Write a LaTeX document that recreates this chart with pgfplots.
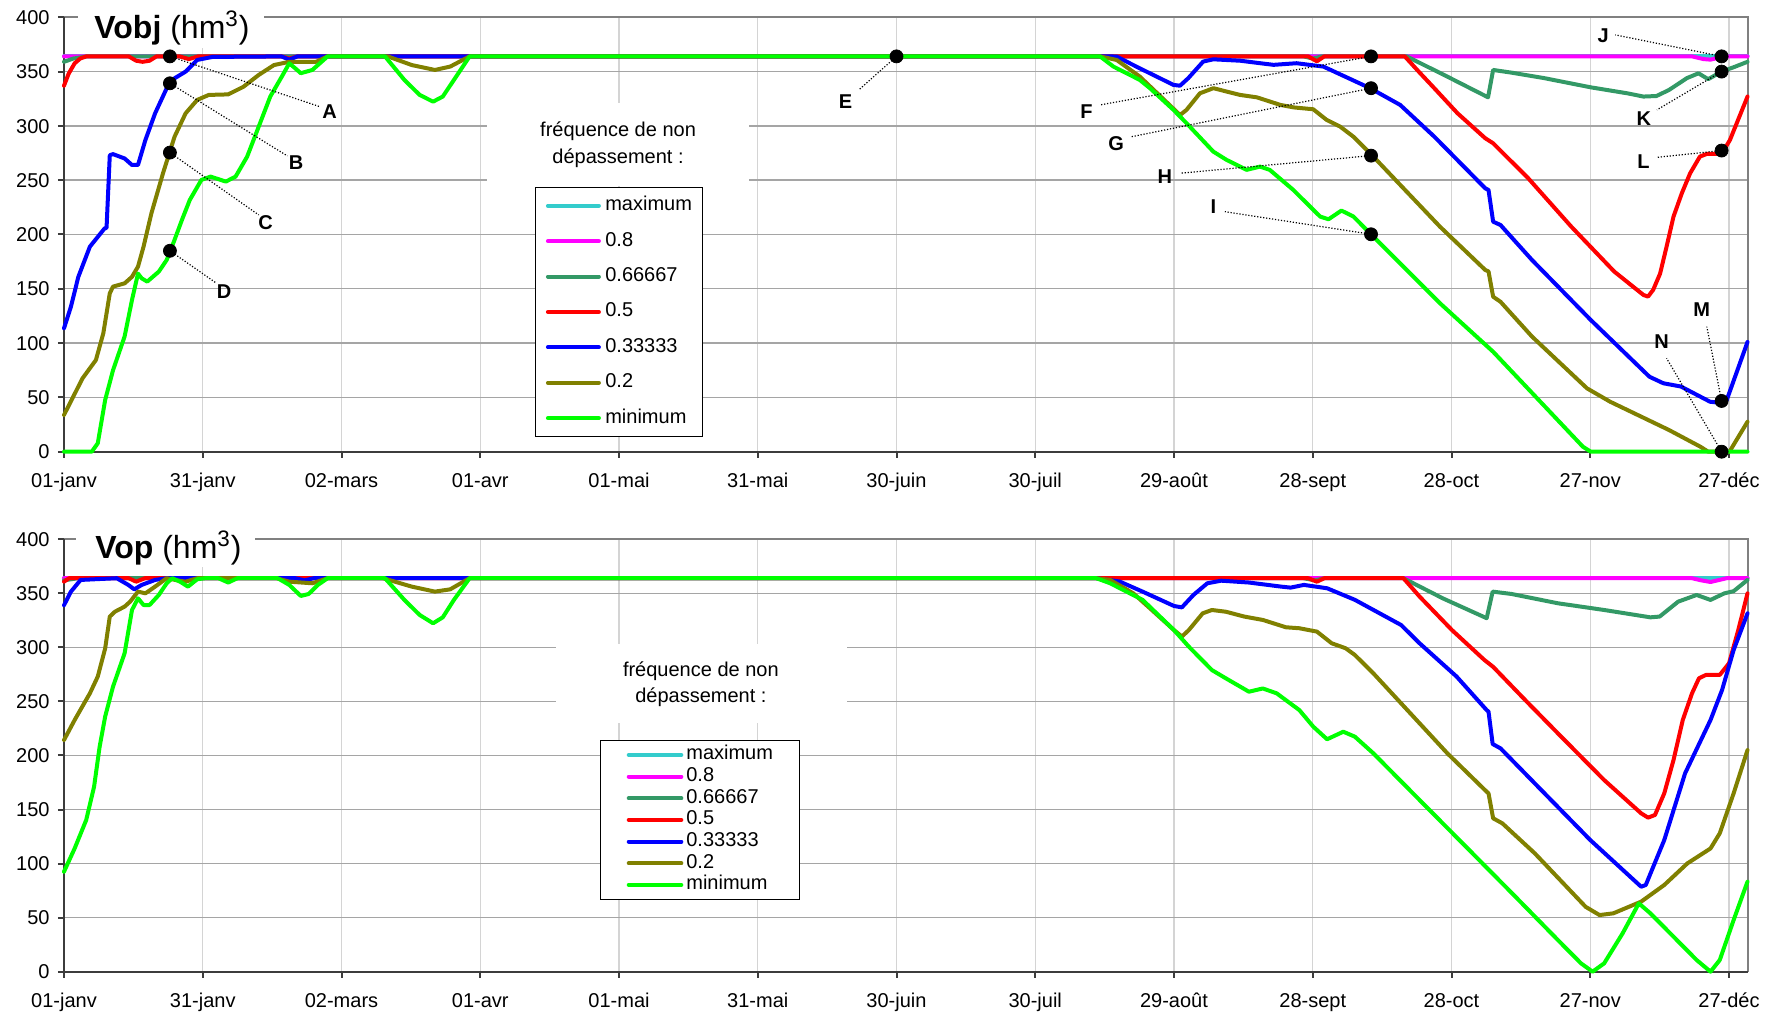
\documentclass[border=0pt]{standalone}
\usepackage{pgfplots}
\pgfplotsset{compat=1.18}
\usepackage{fontspec}
\setmainfont{Liberation Sans}
\definecolor{cmax}{HTML}{33CCCC}
\definecolor{cEight}{HTML}{FF00FF}
\definecolor{cSix}{HTML}{339966}
\definecolor{cFive}{HTML}{FF0000}
\definecolor{cThree}{HTML}{0000FF}
\definecolor{cTwo}{HTML}{808000}
\definecolor{cmin}{HTML}{00FF00}
\definecolor{gridh}{RGB}{165,165,165}
\definecolor{gridv}{RGB}{212,212,212}
\definecolor{bordergray}{RGB}{128,128,128}
\definecolor{axisdark}{RGB}{60,60,60}
\tikzset{
  lead/.style={black, line width=0.6pt, dash pattern=on 0.6pt off 0.9pt},
  lett/.style={font=\bfseries\fontsize{10}{12}\selectfont, inner sep=0pt},
}
\pgfplotsset{
  myaxis/.style={
    scale only axis, width=841.75pt, clip=false,
    xmin=0, xmax=364, ymin=0, ymax=400,
    xtick={0,30,...,360},
    xticklabels={01-janv,31-janv,02-mars,01-avr,01-mai,31-mai,30-juin,30-juil,29-août,28-sept,28-oct,27-nov,27-déc},
    ytick={0,50,...,400},
    grid=major,
    x grid style={color=gridv, line width=0.6pt},
    y grid style={color=gridh, line width=0.7pt},
    axis line style={draw=none},
    tick pos=left, tick align=outside, major tick length=3pt,
    tick style={color=axisdark, line width=1pt},
    /pgf/number format/assume math mode=true,
    font=\fontsize{10}{12}\selectfont,
    xticklabel style={inner sep=0pt, anchor=north, text height=7.2pt, text depth=2pt, yshift=-7.5pt},
    yticklabel style={inner sep=0pt, anchor=east, text height=7.2pt, text depth=0pt, xshift=-4pt},
    legend cell align=left,
  },
  ser/.style={line width=2pt, line join=round, line cap=round},
}
\begin{document}
\begin{tikzpicture}
\path[use as bounding box] (-32pt,-21.65pt) rectangle (854pt,485.85pt);
% ================= TOP: Vobj =================
\begin{axis}[myaxis, height=217.2pt, at={(0pt,260pt)}, anchor=south west,
  legend image code/.code={\draw[#1] (1pt,0pt) -- (26.5pt,0pt);},
  legend style={at={(axis cs:101.8,243.5)}, anchor=north west, draw=black, line width=0.5pt, fill=white,
    inner xsep=5.3pt, inner ysep=4pt, row sep=7.7pt, column sep=2.2pt,
    font=\fontsize{10}{12}\selectfont,
    nodes={inner sep=0pt, text height=7.5pt, text depth=2.5pt}},
]
\draw[bordergray, line width=1pt] (rel axis cs:0,1) -- (rel axis cs:1,1) -- (rel axis cs:1,0);
\draw[axisdark, line width=1pt] (rel axis cs:0,1) -- (rel axis cs:0,0) -- (rel axis cs:1,0);
\addplot[ser, cmax] coordinates {(0,364) (364,364)};
\addlegendentry{maximum}
\addplot[ser, cEight] coordinates {(0,364) (352,364) (354.5,361.5) (356,361) (358,363) (360,364) (364,364)};
\addlegendentry{0.8}
\addplot[ser, cSix] coordinates {(0,359) (2,362) (5,364) (268,364) (270,362) (272,364) (290.3,364) (298.8,346) (307.9,326.3) (309,351.5) (313,349) (320,344) (330.1,335.5) (338,330) (341.5,327) (344.3,327.5) (347,333) (350.9,344) (353.4,348.4) (355.5,343) (358.4,350) (361,354) (364,359)};
\addlegendentry{0.66667}
\addplot[ser, cFive] coordinates {(0,337) (1,348) (2.3,357.6) (3.5,362) (4.8,364) (14,364) (15.6,360) (17,359) (18.5,360) (20,364) (25,364) (27,361.5) (29,364) (47,364) (48.7,362) (50.5,364) (269,364) (270.9,359.5) (272.5,364) (289.9,364) (292.9,350) (296.3,334.6) (301.3,311.6) (307.3,288.6) (309,284) (316.6,251.7) (325.9,207.2) (335.2,165.8) (341.5,144.3) (342.5,142.8) (343.6,149) (345.1,164) (346.5,188.8) (348,216.5) (349.8,238) (351.6,256.4) (353.7,271.7) (355.2,274.2) (358.4,274.2) (360.2,287) (364,327)};
\addlegendentry{0.5}
\addplot[ser, cThree] coordinates {(0,113.6) (1.5,133.5) (3.1,161) (5.6,188.8) (8.8,205.7) (9.2,206) (9.9,273) (10.6,274) (13.1,270) (14.7,264) (16,264) (17.6,287) (19.7,311.6) (22.2,334.6) (23.9,343.8) (26.3,350) (28.8,360.7) (32.1,363.5) (47,364) (48.7,361) (50.5,364) (226,364) (227.6,363.8) (232.6,353) (239.9,337.7) (241.3,337) (243.1,344) (246.3,359.2) (248.5,361.3) (254.3,360) (261.5,356.2) (266.5,357.7) (272.3,354.6) (282.4,334.7) (288.9,319.3) (296.3,290) (307.3,242.5) (308,241) (309,211.8) (310.6,208.7) (317.4,176.5) (330.1,121.3) (342.8,69) (345.8,63) (349.6,60) (355.9,46) (358,45) (359.5,47.5) (364,101)};
\addlegendentry{0.33333}
\addplot[ser, cTwo] coordinates {(0,33.8) (4,67.5) (6.9,84.4) (8.5,109) (9.9,145.8) (10.6,152) (13.1,155) (14.7,161) (16,170.4) (17.2,188.8) (18.9,219.5) (21.4,256.3) (23.9,290) (26.3,311.6) (28.8,323.9) (31.3,328.5) (35.5,329) (38.8,336) (42.1,346.9) (45.4,356) (48.7,359) (54.5,359) (57,364) (70,364) (75.2,356) (80.2,351.5) (83.5,354.6) (87.7,364) (224,364) (227.6,360.7) (232.6,345.4) (241.3,310) (242.7,314.7) (245.6,330) (248.5,334.7) (254.3,328.5) (257.9,326.3) (263,319.3) (265.9,317) (270.1,315.3) (273,305.5) (275.9,299.4) (278.8,290) (283.1,271.7) (297.5,207.2) (307.3,167.3) (308,166) (309,142.7) (310.6,138) (317.4,106) (329.3,58.3) (334.3,46) (347,20) (353.8,4.6) (355.5,0) (360.1,0) (364,27.6)};
\addlegendentry{0.2}
\addplot[ser, cmin] coordinates {(0,0) (6,0) (7.3,7.7) (8.9,47.6) (10.6,75) (13.1,106) (14.7,139.7) (16,164) (16.8,159.6) (18,156.6) (20.5,165.8) (22.2,176.5) (23.9,195) (25.5,213.4) (27.2,231.8) (29.7,250.2) (31.7,253.3) (35,248.7) (37.1,253.3) (39.6,271.7) (42.1,299.3) (44.6,327) (47.1,345.4) (48.7,357.6) (50,353) (51.2,348.5) (53.7,351.5) (57,364) (69.4,364) (73.6,342.3) (76.9,328.5) (79.8,322.3) (81.9,327) (84.3,342.3) (87.7,364) (224,364) (226.9,354.6) (232.6,342.3) (234.8,334.7) (239.9,314.7) (242.7,302.5) (248.5,276.3) (251.4,268.6) (255.7,259.5) (258.6,262.5) (260.7,259.5) (265.8,241) (268.7,228.7) (271.6,216.5) (273.4,214) (276.2,222) (278.8,216.5) (283.1,198) (297.5,136.7) (309,92) (328.4,4.6) (330.1,0) (364,0)};
\addlegendentry{minimum}
% annotations
\draw[lead] (axis cs:22.9,364) -- (axis cs:55.3,317.7);
\draw[lead] (axis cs:22.9,339.2) -- (axis cs:48.3,272.3);
\draw[lead] (axis cs:22.9,275.4) -- (axis cs:42.1,218);
\draw[lead] (axis cs:22.9,185) -- (axis cs:33,155);
\draw[lead] (axis cs:180,364) -- (axis cs:172,333.7);
\draw[lead] (axis cs:282.6,364) -- (axis cs:224,319.3);
\draw[lead] (axis cs:282.6,334.7) -- (axis cs:230.8,290);
\draw[lead] (axis cs:282.6,272.6) -- (axis cs:241.3,256.4);
\draw[lead] (axis cs:282.6,200.2) -- (axis cs:251,221);
\draw[lead] (axis cs:358.4,364) -- (axis cs:335.4,383.8);
\draw[lead] (axis cs:358.4,350) -- (axis cs:344.4,314.7);
\draw[lead] (axis cs:358.4,277.3) -- (axis cs:344.4,271);
\draw[lead] (axis cs:358.4,46.7) -- (axis cs:355.2,115.1);
\draw[lead] (axis cs:358.4,0) -- (axis cs:346.5,86);
\addplot[only marks, mark=*, mark size=3.25pt, black, forget plot] coordinates {(22.9,364) (22.9,339.2) (22.9,275.4) (22.9,185) (180,364) (282.6,364) (282.6,334.7) (282.6,272.6) (282.6,200.2) (358.4,364) (358.4,350) (358.4,277.3) (358.4,46.7) (358.4,0)};
\node[lett] at (axis cs:57.4,313) {A};
\node[lett] at (axis cs:50.2,266) {B};
\node[lett] at (axis cs:43.6,211) {C};
\node[lett] at (axis cs:34.6,147) {D};
\node[lett] at (axis cs:169,322.3) {E};
\node[lett] at (axis cs:221.1,313.2) {F};
\node[lett] at (axis cs:227.5,284) {G};
\node[lett] at (axis cs:238,253.3) {H};
\node[lett] at (axis cs:248.5,225.7) {I};
\node[lett] at (axis cs:332.8,383) {J};
\node[lett] at (axis cs:341.6,307) {K};
\node[lett] at (axis cs:341.5,267) {L};
\node[lett] at (axis cs:354.1,130.5) {M};
\node[lett] at (axis cs:345.4,101.3) {N};
% legend title box
\fill[white] (axis cs:91.4,244.7) rectangle (axis cs:148,321.4);
\node[anchor=base, inner sep=0pt] at (axis cs:119.8,290.1) {fréquence de non};
\node[anchor=base, inner sep=0pt] at (axis cs:119.8,265.6) {dépassement :};
% title
\fill[white] (axis cs:3.1,371.8) rectangle (axis cs:43.2,414);
\node[anchor=base west, inner sep=0pt, font=\fontsize{16}{19}\selectfont] at (axis cs:6.5,380.1) {\textbf{Vobj} (hm\textsuperscript{3})};
\end{axis}
% ================= BOTTOM: Vop =================
\begin{axis}[myaxis, height=216.2pt, at={(0pt,0pt)}, anchor=south west,
  legend image code/.code={\draw[#1] (1pt,0pt) -- (27.3pt,0pt);},
  legend style={at={(axis cs:115.9,214.1)}, anchor=north west, draw=black, line width=0.5pt, fill=white,
    inner xsep=13.1pt, inner ysep=2.1pt, row sep=0.83pt, column sep=1.5pt,
    font=\fontsize{10}{12}\selectfont,
    nodes={inner sep=0pt, text height=7.5pt, text depth=2.5pt}},
]
\draw[bordergray, line width=1pt] (rel axis cs:0,1) -- (rel axis cs:1,1) -- (rel axis cs:1,0);
\draw[axisdark, line width=1pt] (rel axis cs:0,1) -- (rel axis cs:0,0) -- (rel axis cs:1,0);
\addplot[ser, cmax] coordinates {(0,364) (364,364)};
\addlegendentry{maximum}
\addplot[ser, cEight] coordinates {(0,364) (352,364) (354,362) (356,360.5) (358,362.5) (359.5,364) (364,364)};
\addlegendentry{0.8}
\addplot[ser, cSix] coordinates {(0,362) (3,364) (268,364) (270.5,362) (272.5,364) (289.6,364) (298.1,345.4) (307.6,327) (308.9,351.6) (313,349.4) (323,340.8) (333,334.6) (343,327.8) (345,328.5) (349,342.3) (353,348.5) (356,343.9) (359,350) (361,352) (364,362.4)};
\addlegendentry{0.66667}
\addplot[ser, cFive] coordinates {(0,360.8) (1.1,364) (14,364) (15.6,360.8) (17.5,364) (269,364) (270.9,360.8) (272.5,364) (289.6,364) (293.1,347) (300.1,316) (307.1,288.4) (309,282) (316,251) (323,220.5) (333,177.3) (341,146.5) (342.5,142.5) (344,145) (346,165) (348,195.8) (350,232.8) (352,257.5) (353.5,271.4) (355,274.5) (358,274.5) (360,285.3) (362,316) (364,350)};
\addlegendentry{0.5}
\addplot[ser, cThree] coordinates {(0,339) (1.5,351.6) (3.6,362.4) (11.4,364) (13.9,357.8) (15.2,353.7) (16.8,357.8) (19.7,362.4) (22.2,364) (50,364) (52,362) (54,364) (223.2,364) (228.2,361) (233.2,351.6) (240,338.3) (241.7,337) (244.2,348.5) (247.2,359.3) (250.2,361.7) (256.2,360) (263.2,356.2) (265.2,355.3) (268.1,357.8) (273.1,354.7) (279.1,344) (289.1,320.7) (293.1,303.8) (301.1,273) (307.6,242) (308,240.6) (308.9,210.6) (310.6,206.6) (318,174.2) (330,121.8) (341,78.6) (342,80.2) (346,121.8) (350.5,183.5) (356,232.8) (358.5,260.6) (361,297.6) (364,331.5)};
\addlegendentry{0.33333}
\addplot[ser, cTwo] coordinates {(0,214.3) (2.3,232.8) (5.6,257.5) (7.3,273) (8.9,299) (9.9,328.5) (11,333) (13.1,337.7) (14.3,342.3) (16,351.6) (17.6,350) (19.7,356.2) (22.2,364) (24.5,362) (26.3,360.8) (28.8,364) (46,364) (48.7,360.8) (53.7,359.3) (57,364) (69,364) (75.2,356.2) (80.2,351.6) (83.5,353.7) (87.7,364) (223.2,364) (226.2,362.4) (231.2,350) (235.2,334.6) (240,316) (241.7,310) (243.2,316) (246.2,331.5) (248.2,334.6) (251.2,333) (255.2,328.5) (259.2,325.4) (264.2,318.6) (267.1,317.7) (270.9,314.6) (274.1,303.8) (277.1,299.2) (279.1,293) (283.1,276) (291.1,239) (299.1,202) (307.6,166.5) (308,165) (309,141.9) (311,137.2) (318,109.5) (329,60) (332,52.4) (335,54) (341,64.8) (346,80.2) (351,100.2) (356,114) (358,128) (361,165) (364,205)};
\addlegendentry{0.2}
\addplot[ser, cmin] coordinates {(0,92.5) (2.3,114) (4.8,140.3) (6.5,171) (7.7,208) (8.9,236) (10.6,263.7) (13.1,294.5) (14.7,334.6) (16,345.4) (17.2,339.2) (18.5,339.2) (20.5,348.5) (22.2,359.3) (23.4,364) (25.1,360.8) (26.8,356.2) (28.8,363) (30.5,364) (33.4,364) (35.5,360) (37.5,364) (46.2,364) (48.7,357.8) (51.2,347.6) (52.9,349.4) (54.9,357.8) (57,364) (69.4,364) (73.6,343.9) (76.9,330) (79.8,322.3) (81.9,327.8) (84.3,343.9) (87.7,364) (223.2,364) (226.2,359.3) (233.2,344) (240,316) (243.2,300.7) (248.2,279) (251.2,271.4) (256.2,259) (259.2,262) (262.2,257.5) (267.1,242) (270.1,226.7) (273.1,215) (276.6,222) (279.1,217.4) (283.1,202) (293.1,158.8) (303.1,115.7) (313.1,72.5) (323,29.3) (328,7.7) (330.5,0) (333,7.7) (337,35.5) (340.5,63.2) (343,54) (348,32.4) (353,10.8) (356,0) (358,10.8) (361,47.8) (364,83.3)};
\addlegendentry{minimum}
% legend title box
\fill[white] (axis cs:106.4,230.5) rectangle (axis cs:169.4,303.2);
\node[anchor=base, inner sep=0pt] at (axis cs:137.7,273.2) {fréquence de non};
\node[anchor=base, inner sep=0pt] at (axis cs:137.7,249.1) {dépassement :};
% title
\fill[white] (axis cs:2.7,374.7) rectangle (axis cs:41.2,417.4);
\node[anchor=base west, inner sep=0pt, font=\fontsize{16}{19}\selectfont] at (axis cs:6.7,382.1) {\textbf{Vop} (hm\textsuperscript{3})};
\end{axis}
\end{tikzpicture}
\end{document}
